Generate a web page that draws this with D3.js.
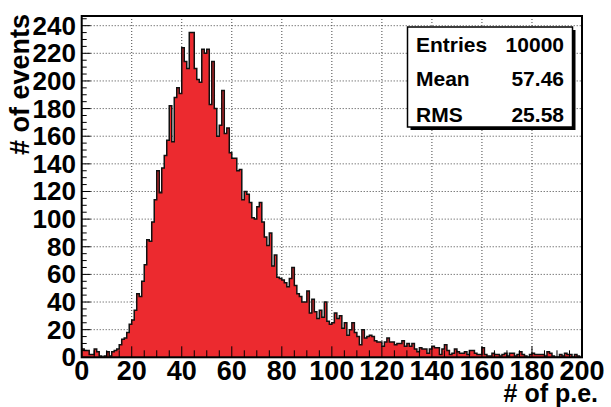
<!DOCTYPE html>
<html>
<head>
<meta charset="utf-8">
<script src="https://cdn.jsdelivr.net/npm/d3@7"></script>
<style>
  html, body { margin: 0; padding: 0; background: #fff; }
  svg { display: block; }
  text { font-family: "Liberation Sans", Arial, Helvetica, sans-serif; font-weight: bold; fill: #000; }
</style>
</head>
<body>
<svg id="chart" width="611" height="407"></svg>
<script>
// Histogram of photo-electron counts: 200 bins of width 1 from 0 to 200
const binEdges = [0, 200];
const binCounts = [
  6, 5, 5, 2, 2, 6, 4, 1, 0, 1,
  4, 1, 4, 5, 6, 9, 13, 14, 18, 24,
  27, 34, 46, 44, 55, 67, 85, 84, 98, 114,
  135, 119, 137, 146, 157, 182, 156, 188, 195, 191,
  224, 214, 209, 235, 235, 209, 201, 199, 223, 220,
  223, 183, 214, 180, 160, 168, 193, 162, 166, 148,
  144, 144, 135, 136, 114, 120, 118, 112, 101, 100,
  109, 112, 98, 87, 81, 90, 66, 74, 58, 57,
  56, 54, 51, 57, 65, 52, 46, 44, 40, 40,
  48, 32, 42, 33, 28, 34, 29, 40, 26, 24,
  25, 32, 28, 30, 21, 25, 16, 20, 25, 18,
  15, 9, 20, 14, 15, 16, 15, 12, 11, 11,
  8, 11, 14, 11, 11, 9, 10, 10, 12, 8,
  10, 8, 10, 6, 4, 7, 6, 6, 3, 6,
  8, 7, 7, 2, 6, 9, 5, 2, 3, 6,
  4, 3, 3, 4, 2, 5, 5, 3, 2, 2,
  7, 2, 1, 1, 3, 2, 2, 1, 2, 3,
  1, 3, 3, 1, 2, 4, 2, 1, 0, 2,
  3, 2, 2, 2, 2, 1, 4, 3, 1, 0,
  0, 2, 1, 3, 2, 2, 0, 2, 1, 0
];
const xTickValues = [0, 20, 40, 60, 80, 100, 120, 140, 160, 180, 200];
const yTickValues = [0, 20, 40, 60, 80, 100, 120, 140, 160, 180, 200, 220, 240];
const statLabels = ["Entries", "Mean", "RMS"];
const statValues = ["10000", "57.46", "25.58"];
const xTitle = "# of p.e.";
const yTitle = "# of events";

const svg = d3.select("#chart");
const frame = { left: 81.7, right: 582, top: 16, bottom: 357.3 };
const yMax = 247;

const x = d3.scaleLinear().domain(binEdges).range([frame.left, frame.right]);
const y = d3.scaleLinear().domain([0, yMax]).range([frame.bottom, frame.top]);

// dotted grid at the major ticks
const grid = svg.append("g").attr("stroke", "#444").attr("stroke-width", 1)
  .attr("stroke-dasharray", "1,2");
xTickValues.slice(1, -1).forEach(v => {
  grid.append("line").attr("x1", x(v)).attr("x2", x(v))
    .attr("y1", frame.top).attr("y2", frame.bottom);
});
yTickValues.slice(1).forEach(v => {
  grid.append("line").attr("x1", frame.left).attr("x2", frame.right)
    .attr("y1", y(v)).attr("y2", y(v));
});

// histogram: filled steps plus outline
const binWidth = (binEdges[1] - binEdges[0]) / binCounts.length;
const pts = binCounts.map((c, i) => ({ lo: binEdges[0] + i * binWidth, c }));
pts.push({ lo: binEdges[1], c: binCounts[binCounts.length - 1] });

const area = d3.area().curve(d3.curveStepAfter)
  .x(d => x(d.lo)).y0(y(0)).y1(d => y(d.c));
svg.append("path").datum(pts).attr("d", area).attr("fill", "#ec2a2f");

const outline = d3.line().curve(d3.curveStepAfter)
  .x(d => x(d.lo)).y(d => y(d.c));
svg.append("path").datum(pts).attr("d", outline)
  .attr("fill", "none").attr("stroke", "#111").attr("stroke-width", 1.5)
  .attr("stroke-linejoin", "miter");

// ticks: major every 20, minor every 5
const ticks = svg.append("g").attr("stroke", "#000").attr("stroke-width", 1);
d3.range(0, 201, 5).forEach(v => {
  const len = v % 20 === 0 ? 11 : 7;
  ticks.append("line").attr("x1", x(v)).attr("x2", x(v))
    .attr("y1", frame.bottom).attr("y2", frame.bottom - len);
});
d3.range(0, 246, 5).forEach(v => {
  const len = v % 20 === 0 ? 9 : 5;
  ticks.append("line").attr("x1", frame.left).attr("x2", frame.left + len)
    .attr("y1", y(v)).attr("y2", y(v));
});

// frame
svg.append("rect").attr("x", frame.left).attr("y", frame.top)
  .attr("width", frame.right - frame.left).attr("height", frame.bottom - frame.top)
  .attr("fill", "none").attr("stroke", "#000").attr("stroke-width", 2);

// tick labels
svg.append("g").selectAll("text").data(yTickValues).join("text")
  .attr("x", 76).attr("y", d => y(d) + 9)
  .attr("text-anchor", "end").attr("font-size", 26)
  .text(d => d);
svg.append("g").selectAll("text").data(xTickValues).join("text")
  .attr("x", d => x(d)).attr("y", 380)
  .attr("text-anchor", "middle").attr("font-size", 27)
  .text(d => d);

// axis titles
svg.append("text").attr("x", 598).attr("y", 402)
  .attr("text-anchor", "end").attr("font-size", 25).text(xTitle);
svg.append("text").attr("transform", "translate(29,14) rotate(-90)")
  .attr("text-anchor", "end").attr("font-size", 27).text(yTitle);

// statistics box with drop shadow
const box = { x: 407.5, y: 27, w: 165, h: 100 };
svg.append("rect").attr("x", box.x + 3).attr("y", box.y + 3)
  .attr("width", box.w).attr("height", box.h).attr("fill", "#000");
svg.append("rect").attr("x", box.x).attr("y", box.y)
  .attr("width", box.w).attr("height", box.h)
  .attr("fill", "#fff").attr("stroke", "#000").attr("stroke-width", 1.5);
const rowBase = [52, 86, 121.5];
statLabels.forEach((s, i) => {
  svg.append("text").attr("x", 416).attr("y", rowBase[i])
    .attr("font-size", 21).text(s);
  svg.append("text").attr("x", 564).attr("y", rowBase[i])
    .attr("text-anchor", "end").attr("font-size", 21).text(statValues[i]);
});
</script>
</body>
</html>
